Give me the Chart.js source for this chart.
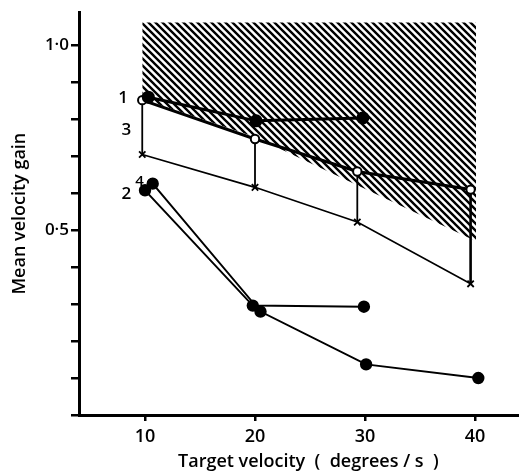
<!DOCTYPE html>
<html>
<head>
<meta charset="utf-8">
<script src="https://cdn.jsdelivr.net/npm/chart.js@4.4.0/dist/chart.umd.min.js"></script>
<style>
  html, body { margin: 0; padding: 0; background: #fff; }
  #wrap { width: 519px; height: 474px; }
</style>
</head>
<body>
<div id="wrap"><canvas id="grafico"></canvas></div>
<script>
// ---- valores ----
const X_SERIE1 = [10.3, 20.1, 29.8];
const Y_SERIE1 = [0.860, 0.796, 0.804];

const X_ABERTOS = [9.75, 20.0, 29.3, 39.6];
const Y_ABERTOS = [0.852, 0.747, 0.659, 0.610];

const X_CRUZES = [9.75, 20.0, 29.3, 39.6];
const Y_CRUZES = [0.705, 0.616, 0.522, 0.355];

const X_SERIE2 = [10.0, 19.8, 29.9];
const Y_SERIE2 = [0.608, 0.296, 0.293];

const X_SERIE4 = [10.7, 20.5, 30.1, 40.3];
const Y_SERIE4 = [0.626, 0.280, 0.137, 0.100];

// area hachurada
const X_HACHURA = [9.75, 20.0, 40.1];
const Y_HACHURA_TOPO = [1.062, 1.062, 1.062];
const Y_HACHURA_BASE = [0.855, 0.752, 0.470];

const X_TICKS = [10, 20, 30, 40];
const Y_TICKS_COM_ROTULO = [0.5, 1.0];

const ROTULOS = ['1', '3', '4', '2'];
const ROTULOS_X = [8.0, 8.3, 9.5, 8.3];
const ROTULOS_Y = [0.858, 0.772, 0.632, 0.597];

// ----------------------------------------------------------------
const FONTE = "'Open Sans', 'DejaVu Sans', sans-serif";
const PRETO = '#000';

const pontos = (xs, ys) => xs.map((x, i) => ({ x, y: ys[i] }));

function hachura() {
  const s = 7;
  const c = document.createElement('canvas');
  c.width = s; c.height = s;
  const g = c.getContext('2d');
  g.strokeStyle = PRETO;
  g.lineWidth = 2.4;
  g.beginPath();
  [-s, 0, s].forEach(k => { g.moveTo(k - 1, -1); g.lineTo(k + s + 1, s + 1); });
  g.stroke();
  return g.createPattern(c, 'repeat');
}

const serie = (data, extra) => Object.assign({
  data,
  showLine: true,
  tension: 0,
  borderColor: PRETO,
  backgroundColor: PRETO,
  pointBorderColor: PRETO,
  fill: false,
}, extra);

const verticais = X_ABERTOS.map((x, i) => serie(
  [{ x, y: Y_ABERTOS[i] }, { x: X_CRUZES[i], y: Y_CRUZES[i] }],
  { borderWidth: i === 3 ? 2.6 : 1.8, pointRadius: 0 }
));

const rotulosPlugin = {
  id: 'rotulos',
  afterDatasetsDraw(chart) {
    const { ctx, scales: { x, y } } = chart;
    ctx.save();
    ctx.fillStyle = PRETO;
    ctx.textAlign = 'center';
    ctx.textBaseline = 'middle';
    ROTULOS.forEach((t, i) => {
      ctx.font = `600 ${t === '4' ? 15 : 17}px ${FONTE}`;
      ctx.fillText(t, x.getPixelForValue(ROTULOS_X[i]), y.getPixelForValue(ROTULOS_Y[i]));
    });
    ctx.restore();
  },
};

new Chart(document.getElementById('grafico'), {
  type: 'scatter',
  data: {
    datasets: [
      serie(pontos(X_SERIE1, Y_SERIE1), { borderWidth: 3, pointRadius: 5, pointStyle: 'circle' }),
      serie(pontos(X_ABERTOS, Y_ABERTOS), {
        borderWidth: 3, pointRadius: 4.2, pointStyle: 'circle',
        pointBackgroundColor: '#fff', pointBorderWidth: 2,
      }),
      serie(pontos(X_CRUZES, Y_CRUZES), {
        borderWidth: 1.6, pointRadius: 4.5, pointStyle: 'crossRot', pointBorderWidth: 1.8,
      }),
      serie(pontos(X_SERIE2, Y_SERIE2), { borderWidth: 2, pointRadius: 5.2, pointStyle: 'circle' }),
      serie(pontos(X_SERIE4, Y_SERIE4), { borderWidth: 2, pointRadius: 5.2, pointStyle: 'circle' }),
      ...verticais,
      // hachura: topo preenche ate a base (proximo dataset)
      serie(pontos(X_HACHURA, Y_HACHURA_TOPO), {
        borderWidth: 0, borderColor: 'rgba(0,0,0,0)', pointRadius: 0,
        backgroundColor: hachura(), fill: '+1',
      }),
      serie(pontos(X_HACHURA, Y_HACHURA_BASE), {
        borderWidth: 0, borderColor: 'rgba(0,0,0,0)', pointRadius: 0,
      }),
    ],
  },
  options: {
    responsive: true,
    maintainAspectRatio: false,
    animation: false,
    layout: { autoPadding: false, padding: { top: 10, right: 0, left: 0, bottom: 0 } },
    plugins: {
      legend: { display: false },
      tooltip: { enabled: false },
    },
    scales: {
      x: {
        type: 'linear',
        min: 4,
        max: 44,
        afterBuildTicks: (s) => { s.ticks = X_TICKS.map(v => ({ value: v })); },
        afterFit: (s) => { s.height = 59; s.paddingLeft = 0; s.paddingRight = 0; },
        border: { color: PRETO, width: 3 },
        grid: { drawOnChartArea: false, color: PRETO, tickLength: 6, lineWidth: 2.5 },
        ticks: { color: PRETO, padding: 5, font: { family: FONTE, size: 18, weight: '600' } },
        title: {
          display: true,
          text: '    Target velocity  (  degrees / s  )',
          color: PRETO,
          padding: { top: 0, bottom: 1 },
          font: { family: FONTE, size: 18, weight: '600' },
        },
      },
      y: {
        type: 'linear',
        min: 0,
        max: 1.09,
        ticks: {
          stepSize: 0.1,
          includeBounds: false,
          color: PRETO,
          padding: 2,
          font: { family: FONTE, size: 17, weight: '600' },
          callback: (v) => Y_TICKS_COM_ROTULO.some(t => Math.abs(t - v) < 1e-6) ? v.toFixed(1).replace('.', '·') : '',
        },
        afterFit: (s) => { s.width = 79; },
        border: { color: PRETO, width: 3 },
        grid: { drawOnChartArea: false, color: PRETO, tickLength: 8, lineWidth: 2.5 },
        title: {
          display: true,
          text: 'Mean velocity gain',
          color: PRETO,
          padding: { top: 9, bottom: 0 },
          font: { family: FONTE, size: 18, weight: '600' },
        },
      },
    },
  },
  plugins: [rotulosPlugin],
});
</script>
</body>
</html>
